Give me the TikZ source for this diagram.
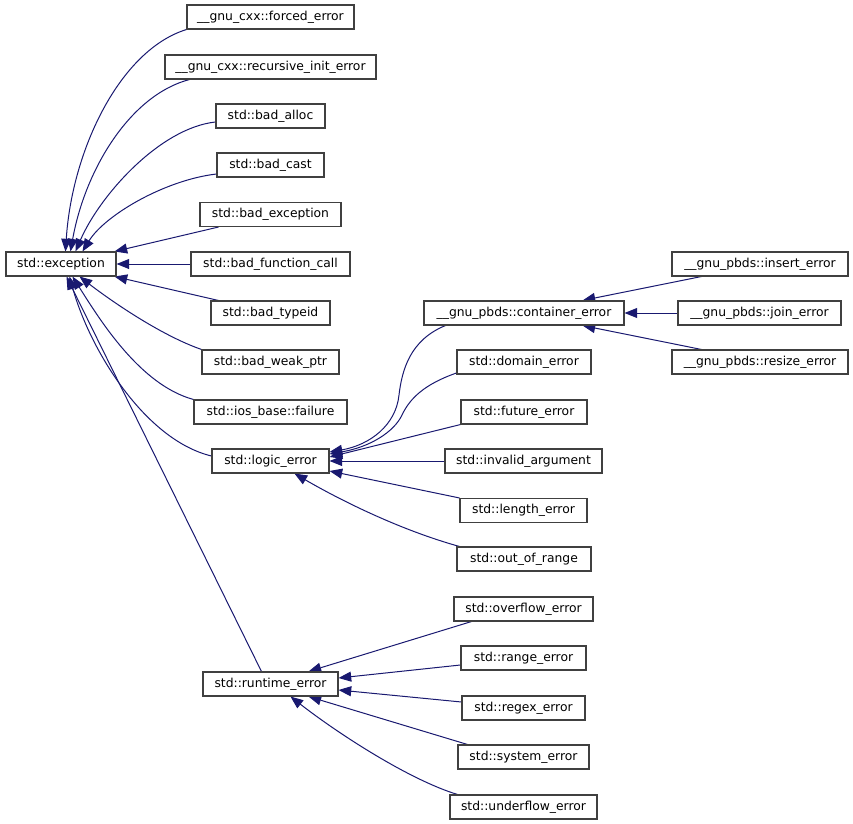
\documentclass[tikz,border=0pt]{standalone}
\usepackage{fontspec}
\setmainfont{DejaVu Sans}
\usetikzlibrary{arrows.meta,calc,backgrounds}
\definecolor{edgeblue}{HTML}{191970}
\definecolor{boxline}{HTML}{404040}
\begin{document}
\begin{tikzpicture}[x=0.75pt,y=-0.75pt,
  cls/.style={draw=boxline, line width=0.8pt, fill=white, inner sep=0pt,
    minimum height=18pt, minimum width=#1*0.75pt,
    font=\fontsize{9.25pt}{11pt}\selectfont},
  inh/.style={draw=edgeblue, line width=0.75pt, -{Triangle[length=9.5pt,width=7.5pt]}, edgeblue}]
\useasboundingbox (0,0) rectangle (853,824);
% nodes
\node[cls=167] (fe)  at (270.5,17)  {\_\_gnu\_cxx::forced\_error};
\node[cls=211] (rie) at (270.5,67)  {\_\_gnu\_cxx::recursive\_init\_error};
\node[cls=109] (ba)  at (270.5,116) {std::bad\_alloc};
\node[cls=107] (bc)  at (270.5,165) {std::bad\_cast};
\node[cls=141] (be)  at (270.5,214.5) {std::bad\_exception};
\node[cls=110] (exc) at (61,264)    {std::exception};
\node[cls=159] (bfc) at (270.5,264) {std::bad\_function\_call};
\node[cls=119] (bt)  at (270.5,313) {std::bad\_typeid};
\node[cls=137] (bwp) at (270.5,362) {std::bad\_weak\_ptr};
\node[cls=153] (iof) at (270.5,412) {std::ios\_base::failure};
\node[cls=117] (le)  at (270.5,461) {std::logic\_error};
\node[cls=135] (re)  at (270.5,684) {std::runtime\_error};
\node[cls=200] (ce)  at (524,313)   {\_\_gnu\_pbds::container\_error};
\node[cls=134] (de)  at (524,362)   {std::domain\_error};
\node[cls=126] (fu)  at (524,412)   {std::future\_error};
\node[cls=157] (ia)  at (523.5,461) {std::invalid\_argument};
\node[cls=127] (lg)  at (523.5,510.5) {std::length\_error};
\node[cls=134] (oor) at (524,559)   {std::out\_of\_range};
\node[cls=139] (ov)  at (523.5,609) {std::overflow\_error};
\node[cls=125] (rg)  at (523.5,658) {std::range\_error};
\node[cls=123] (rx)  at (523.5,708) {std::regex\_error};
\node[cls=131] (sy)  at (523.5,757) {std::system\_error};
\node[cls=147] (uf)  at (523.5,807) {std::underflow\_error};
\node[cls=176] (ie)  at (760,264)   {\_\_gnu\_pbds::insert\_error};
\node[cls=163] (je)  at (759.5,313) {\_\_gnu\_pbds::join\_error};
\node[cls=176] (rse) at (760,362)   {\_\_gnu\_pbds::resize\_error};
\begin{pgfonlayer}{background}
% edges to std::exception
\draw[inh] (fe.south west) .. controls (120,50) and (72,150) .. ($(exc.north west)+(60,0)$);
\draw[inh] ($(rie.south west)+(25,0)$) .. controls (130,95) and (85,170) .. ($(exc.north west)+(65,0)$);
\draw[inh] ($(ba.west)+(0,6)$) .. controls (160,128) and (100,195) .. ($(exc.north west)+(70,0)$);
\draw[inh] ($(bc.west)+(0,9)$) .. controls (165,180) and (105,215) .. ($(exc.north west)+(77,0)$);
\draw[inh] ($(be.south west)+(19,0)$) -- ($(exc.north east)+(-2,0)$);
\draw[inh] (bfc.west) -- (exc.east);
\draw[inh] ($(bt.north west)+(8,0)$) -- ($(exc.south east)+(-2,0)$);
\draw[inh] (bwp.north west) .. controls (160,335) and (110,300) .. ($(exc.south west)+(74,0)$);
\draw[inh] (iof.north west) .. controls (140,385) and (100,320) .. ($(exc.south west)+(67,0)$);
\draw[inh] ($(le.west)+(0,-5)$) .. controls (145,440) and (90,350) .. ($(exc.south west)+(64,0)$);
\draw[inh] ($(re.north west)+(59,0)$) -- ($(exc.south west)+(61,0)$);
% edges to std::logic_error
\draw[inh] ($(ce.south west)+(22,0)$) .. controls (410,340) and (402,370) .. (399,395)
  .. controls (396,425) and (370,445) .. ($(le.east)+(0,-9)$);
\draw[inh] ($(de.west)+(0,11)$) .. controls (425,384) and (410,398) .. (402,415)
  .. controls (394,432) and (370,447) .. ($(le.east)+(0,-7)$);
\draw[inh] (fu.south west) -- ($(le.east)+(0,-4)$);
\draw[inh] (ia.west) -- (le.east);
\draw[inh] (lg.north west) -- ($(le.east)+(0,10)$);
\draw[inh] ($(oor.north west)+(3,0)$) .. controls (400,530) and (340,500) .. ($(le.south west)+(83,0)$);
% edges to container_error
\draw[inh] ($(ie.south west)+(30,0)$) -- ($(ce.north east)+(-42,0)$);
\draw[inh] (je.west) -- (ce.east);
\draw[inh] ($(rse.north west)+(30,0)$) -- ($(ce.south east)+(-42,0)$);
% edges to runtime_error
\draw[inh] ($(ov.south west)+(18,0)$) -- ($(re.north east)+(-30,0)$);
\draw[inh] ($(rg.west)+(0,7)$) -- ($(re.east)+(0,-6)$);
\draw[inh] ($(rx.west)+(0,-6)$) -- ($(re.east)+(0,6)$);
\draw[inh] ($(sy.north west)+(10,0)$) -- ($(re.south east)+(-30,0)$);
\draw[inh] ($(uf.north west)+(8,0)$) .. controls (410,780) and (340,735) .. ($(re.south west)+(88,0)$);
\end{pgfonlayer}
\end{tikzpicture}
\end{document}
